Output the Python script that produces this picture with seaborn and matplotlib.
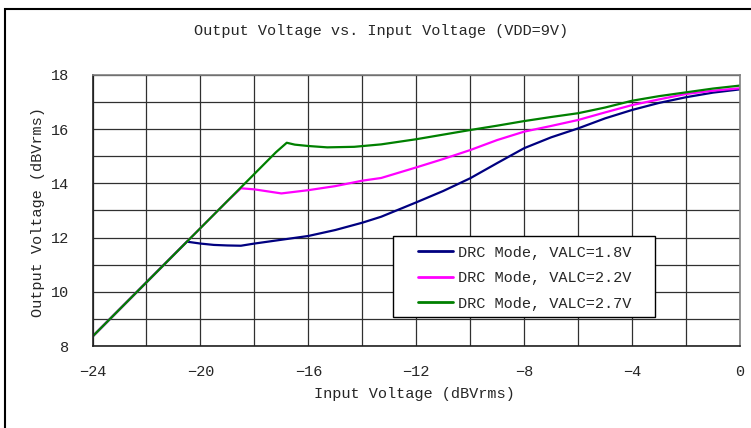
import matplotlib
matplotlib.use("Agg")
import matplotlib.pyplot as plt
from matplotlib.patches import Rectangle
import seaborn as sns
import pandas as pd

# Measured transfer curves (input dBVrms -> output dBVrms)
x_18 = [-24, -23, -22, -21, -20.5, -20, -19.5, -19, -18.5, -18, -17.5, -17, -16,
        -15, -14, -13.3, -12, -11, -10, -9, -8, -7, -6, -5, -4, -3, -2, -1, 0]
y_18 = [8.35, 9.35, 10.35, 11.35, 11.85, 11.78, 11.73, 11.71, 11.70, 11.78, 11.85,
        11.92, 12.06, 12.28, 12.55, 12.77, 13.30, 13.72, 14.19, 14.75, 15.30,
        15.70, 16.03, 16.40, 16.71, 16.97, 17.18, 17.35, 17.47]

x_22 = [-24, -23, -22, -21, -20, -19, -18.5, -18, -17, -16, -15, -14, -13.3, -12,
        -11, -10, -9, -8, -7, -6, -5, -4, -3, -2, -1, 0]
y_22 = [8.35, 9.35, 10.35, 11.35, 12.35, 13.35, 13.82, 13.78, 13.63, 13.75, 13.90,
        14.10, 14.20, 14.59, 14.90, 15.23, 15.60, 15.91, 16.12, 16.34, 16.62,
        16.89, 17.10, 17.30, 17.42, 17.51]

x_27 = [-24, -23, -22, -21, -20, -19, -18, -17.2, -16.8, -16.5, -16, -15.3, -14.3,
        -13.3, -12, -11, -10, -9, -8, -7, -6, -5, -4, -3, -2, -1, 0]
y_27 = [8.35, 9.35, 10.35, 11.35, 12.35, 13.35, 14.35, 15.15, 15.50, 15.43, 15.38,
        15.33, 15.35, 15.44, 15.63, 15.80, 15.97, 16.13, 16.30, 16.45, 16.59,
        16.80, 17.05, 17.22, 17.36, 17.50, 17.61]

labels = ["DRC Mode, VALC=1.8V", "DRC Mode, VALC=2.2V", "DRC Mode, VALC=2.7V"]
colors = ["#000080", "#FF00FF", "#008000"]

x_ticks = [-24, -20, -16, -12, -8, -4, 0]
y_ticks = [8, 10, 12, 14, 16, 18]

frames = []
for lab, xs, ys in zip(labels, [x_18, x_22, x_27], [y_18, y_22, y_27]):
    frames.append(pd.DataFrame({"x": xs, "y": ys, "series": lab}))
df = pd.concat(frames, ignore_index=True)

sns.set_style("white")
plt.rcParams["font.family"] = ["Liberation Mono", "DejaVu Sans Mono"]

W, H = 751, 428
FS = 11
fig = plt.figure(figsize=(W / 100, H / 100), dpi=100)
ax = fig.add_axes([92.5 / W, 1 - 346 / H, (740 - 92.5) / W, (346 - 75) / H])

sns.lineplot(data=df, x="x", y="y", hue="series", hue_order=labels,
             palette=dict(zip(labels, colors)), sort=False, estimator=None,
             linewidth=1.6, ax=ax)

ax.set_xlim(-24, 0)
ax.set_ylim(8, 18)
ax.set_xticks(x_ticks)
ax.set_yticks(y_ticks)
ax.set_xticks(range(-24, 1, 2), minor=True)
ax.set_yticks(range(8, 19, 1), minor=True)
ax.grid(True, which="both", color="#303030", linewidth=0.9)
ax.set_axisbelow(True)
ax.tick_params(axis="both", which="both", length=0, labelsize=FS)
ax.tick_params(axis="y", pad=17)
ax.tick_params(axis="x", pad=14)
for side in ["top", "right"]:
    ax.spines[side].set_color("#7f7f7f")
    ax.spines[side].set_linewidth(1.2)
for side in ["bottom", "left"]:
    ax.spines[side].set_color("#202020")
    ax.spines[side].set_linewidth(1.2)
ax.set_xlabel("")
ax.set_ylabel("")

fig.text(381 / W, 1 - 31 / H, "Output Voltage vs. Input Voltage (VDD=9V)",
         ha="center", va="center", fontsize=FS)
fig.text(414 / W, 1 - 394 / H, "Input Voltage (dBVrms)",
         ha="center", va="center", fontsize=FS)
fig.text(38 / W, 1 - 212 / H, "Output Voltage (dBVrms)",
         ha="center", va="center", rotation=90, fontsize=FS)

# Legend entries without their own frame; the box is drawn separately
leg = ax.legend(loc="upper left", bbox_to_anchor=(418 / W, 1 - 245.5 / H),
                bbox_transform=fig.transFigure, borderaxespad=0,
                fontsize=FS, frameon=False, handlelength=35 / 15.3,
                handletextpad=0.3, borderpad=0, labelspacing=0.76)
for line in leg.get_lines():
    line.set_linewidth(2.0)
ax.add_patch(Rectangle((393 / W, 1 - 317 / H), (655 - 393) / W, 81 / H,
                       transform=fig.transFigure, facecolor="white",
                       edgecolor="black", linewidth=1.0, zorder=4,
                       clip_on=False))
leg.set_zorder(5)

# Outer frame around the figure
fig.patches.append(Rectangle((5 / W, -0.05), 1.1, 1 - 9 / H + 0.05,
                             transform=fig.transFigure, fill=False,
                             edgecolor="black", linewidth=1.5))

fig.savefig("out.png", dpi=100)
